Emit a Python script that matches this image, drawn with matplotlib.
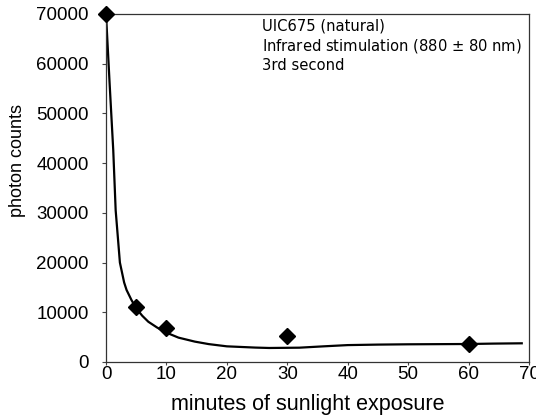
import matplotlib
matplotlib.use('Agg')
import matplotlib.pyplot as plt

# measured points (minutes, photon counts)
minutes = [0, 5, 10, 30, 60]
counts = [70000, 11000, 6800, 5300, 3600]

# fitted curve
curve_x = [0, 0.6, 1.2, 1.6, 2.3, 3.0, 3.4, 4.2, 5.0, 6.0, 7.0, 8.5, 10, 12, 14.7,
           17, 20, 24.7, 27, 32, 36, 40, 45, 50, 55, 60, 64, 68.8]
curve_y = [70000, 56000, 42600, 30500, 20000, 16000, 14500, 12500, 10800, 9300, 8100,
           6900, 5900, 4900, 4100, 3600, 3150, 2900, 2820, 2880, 3150, 3400, 3500,
           3560, 3590, 3620, 3700, 3760]

x_ticks = [0, 10, 20, 30, 40, 50, 60, 70]
y_ticks = [0, 10000, 20000, 30000, 40000, 50000, 60000, 70000]

fig = plt.figure(figsize=(5.36, 4.16), dpi=100)
ax = fig.add_axes([106 / 536, (416 - 362) / 416, 423 / 536, 348 / 416])

ax.plot(curve_x, curve_y, color='black', linewidth=1.6, zorder=2)
ax.plot(minutes, counts, linestyle='none', marker='D', markersize=8.5,
        color='black', clip_on=False, zorder=3)

ax.set_xlim(0, 70)
ax.set_ylim(0, 70000)
ax.set_xticks(x_ticks)
ax.set_yticks(y_ticks)
ax.set_xticklabels([str(v) for v in x_ticks], fontsize=13.5, family='Liberation Sans')
ax.set_yticklabels([str(v) for v in y_ticks], fontsize=13.5, family='Liberation Sans')
ax.tick_params(axis='y', direction='out', length=3, width=0.8, pad=9.4, colors='#444444',
               labelcolor='black')
ax.tick_params(axis='x', direction='out', length=2.5, width=0.8, pad=0.5, colors='#444444',
               labelcolor='black')
for s in ax.spines.values():
    s.set_color('#333333')
    s.set_linewidth(0.9)

ax.set_xlabel('minutes of sunlight exposure', fontsize=15.5, family='Liberation Sans')
ax.xaxis.label.set_va('baseline')
ax.xaxis.set_label_coords(0.476, -0.138)
ax.set_ylabel('photon counts', fontsize=13, family='Liberation Sans')
ax.yaxis.set_label_coords(-0.19, 0.58)

ax.text(0.368, 0.988, 'UIC675 (natural)\nInfrared stimulation (880 $\\pm$ 80 nm)\n3rd second',
        transform=ax.transAxes, ha='left', va='top', fontsize=10.6, linespacing=1.25,
        family='DejaVu Sans')

fig.savefig('out.png', dpi=100)
